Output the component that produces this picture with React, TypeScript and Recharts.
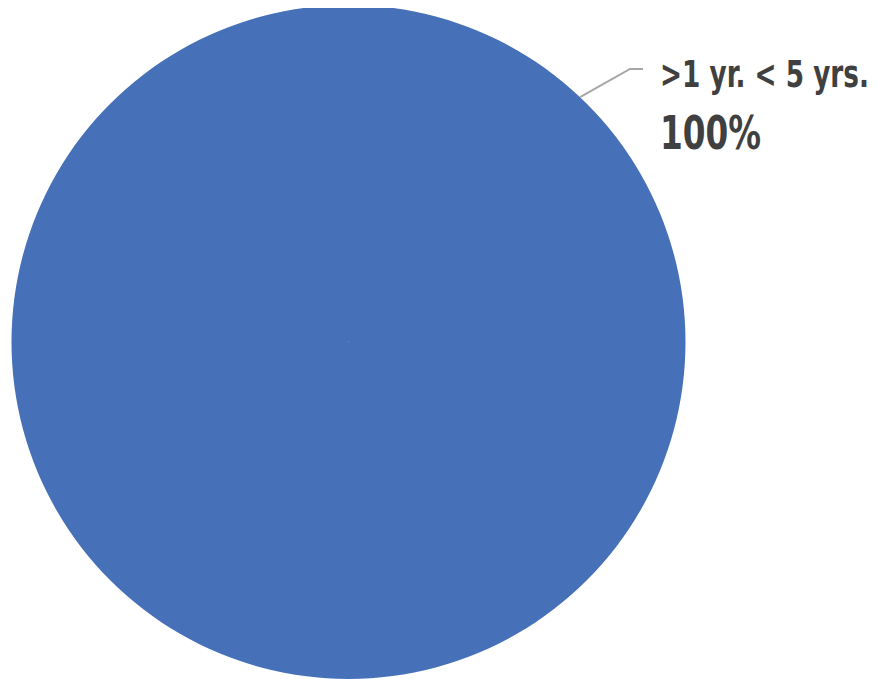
import React from "react";
import { PieChart, Pie, Cell } from "recharts";

const categories = [">1 yr. < 5 yrs."];
const values = [100];
const percentLabels = ["100%"];

const data = categories.map((name, i) => ({ name, value: values[i], pct: percentLabels[i] }));

const COLORS = ["#4670B7"];

const FONT = "'Liberation Sans Narrow', 'DejaVu Sans Condensed', Roboto, sans-serif";
const SQUEEZE = 0.8;

const renderLabel = (props: any) => {
  const { cx, cy, outerRadius, index } = props;
  const ang = (46.6 * Math.PI) / 180;
  const sx = cx + outerRadius * Math.cos(ang);
  const sy = cy - outerRadius * Math.sin(ang);
  const ex = cx + 281.5;
  const ey = cy - 273;
  const hx = ex + 13;
  const tx = hx + 17;
  return (
    <g>
      <polyline
        points={`${sx},${sy} ${ex},${ey} ${hx},${ey}`}
        fill="none"
        stroke="#A6A6A6"
        strokeWidth={2}
      />
      <g transform={`translate(${tx},${cy - 255}) scale(${SQUEEZE},1)`}>
        <text
          x={0}
          y={0}
          fill="#404040"
          fontFamily={FONT}
          fontWeight="bold"
          fontSize={38}
          textLength={209 / SQUEEZE}
          lengthAdjust="spacingAndGlyphs"
        >
          {data[index].name}
        </text>
      </g>
      <g transform={`translate(${tx},${cy - 193}) scale(${SQUEEZE},1)`}>
        <text
          x={0}
          y={0}
          fill="#404040"
          fontFamily={FONT}
          fontWeight="bold"
          fontSize={46}
          textLength={101 / SQUEEZE}
          lengthAdjust="spacingAndGlyphs"
        >
          {data[index].pct}
        </text>
      </g>
    </g>
  );
};

export default function App() {
  return (
    <PieChart width={868} height={671} margin={{ top: 0, right: 0, bottom: 0, left: 0 }}>
      <Pie
        data={data}
        dataKey="value"
        nameKey="name"
        cx={340.5}
        cy={334}
        outerRadius={337}
        startAngle={90}
        endAngle={-270}
        stroke="none"
        label={renderLabel}
        labelLine={false}
        isAnimationActive={false}
      >
        {data.map((d, i) => (
          <Cell key={d.name} fill={COLORS[i]} />
        ))}
      </Pie>
    </PieChart>
  );
}
